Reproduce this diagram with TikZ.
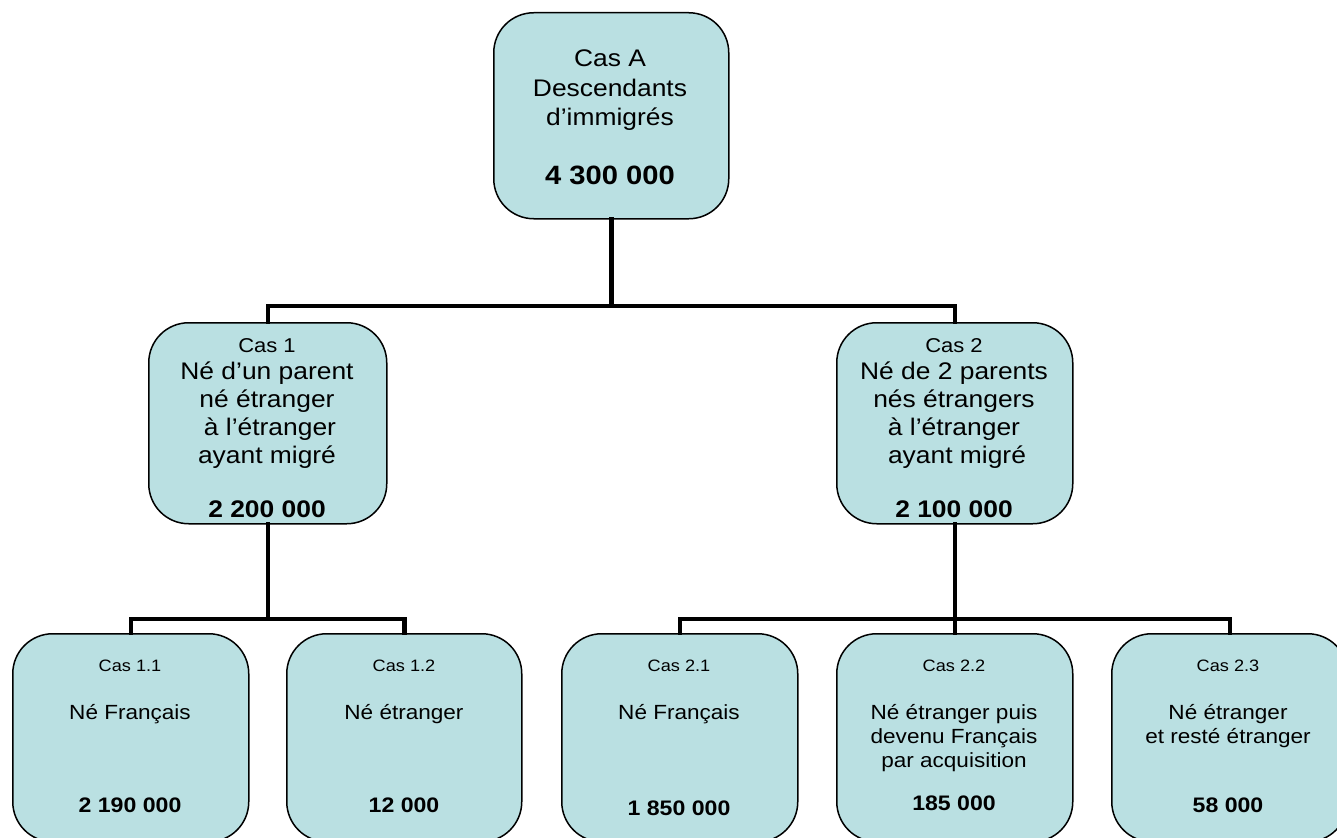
\documentclass[tikz,border=0pt]{standalone}
\usepackage{fontspec}
\setmainfont{Liberation Sans}
\newfontfamily\wfont[FakeStretch=1.1]{Liberation Sans}
\definecolor{boxfill}{RGB}{186,224,226}
\begin{document}
\begin{tikzpicture}[x=1pt,y=-1pt,
  box/.style={draw=black,line width=1.5pt,fill=boxfill,rounded corners=40pt,inner sep=0pt,anchor=north west},
  conn/.style={line width=4.5pt,line cap=rect},
  txt/.style={inner sep=0pt,anchor=base},
  big/.style={txt,font=\wfont\fontsize{24}{29}\selectfont},
  bigb/.style={txt,font=\wfont\fontsize{26.5}{29}\selectfont\bfseries},
  mid/.style={txt,font=\wfont\fontsize{24}{28}\selectfont},
  midb/.style={txt,font=\wfont\fontsize{24}{28}\selectfont\bfseries},
  midc/.style={txt,font=\wfont\fontsize{20}{24}\selectfont},
  sml/.style={txt,font=\wfont\fontsize{20.5}{24}\selectfont},
  smlb/.style={txt,font=\wfont\fontsize{21}{24}\selectfont\bfseries},
  smlc/.style={txt,font=\wfont\fontsize{16.5}{20}\selectfont},
]
\clip (0,0) rectangle (1337,837);
\useasboundingbox (0,0) rectangle (1337,837);
% boxes
\node[box,minimum width=235pt,minimum height=206pt] (a) at (493,12) {};
\node[box,minimum width=238pt,minimum height=201pt] (b1) at (148,322) {};
\node[box,minimum width=236pt,minimum height=201pt] (b2) at (836,322) {};
\node[box,minimum width=236pt,minimum height=208pt] (c11) at (12,633) {};
\node[box,minimum width=235pt,minimum height=208pt] (c12) at (286,633) {};
\node[box,minimum width=236pt,minimum height=208pt] (c21) at (561,633) {};
\node[box,minimum width=236pt,minimum height=208pt] (c22) at (836,633) {};
\node[box,minimum width=236pt,minimum height=208pt] (c23) at (1111,633) {};
% connectors
\coordinate (j1) at (a.south |- 0,306);
\coordinate (j2) at (b1.south |- 0,619);
\coordinate (j3) at (b2.south |- 0,619);
\draw[conn] (a.south) -- (j1);
\draw[conn] (b1.north) |- (j1) -| (b2.north);
\draw[conn] (b1.south) -- (j2);
\draw[conn] (c11.north) |- (j2) -| (c12.north);
\draw[conn] (b2.south) -- (j3);
\draw[conn] (c21.north) |- (j3) -| (c23.north);
\draw[conn] (c22.north) -- (j3);
% top texts (baselines)
\node[big] (a1) at (610,67) {Cas A};
\node[big] (a2) at (610,97) {Descendants};
\node[big] (a3) at (610,126) {d’immigrés};
\node[bigb] (a4) at (610,185) {4 300 000};
% level 2 left
\node[midc] (b1t1) at (267,352) {Cas 1};
\node[mid] (b1t2) at (267,379) {Né d’un parent};
\node[mid] (b1t3) at (267,407) {né étranger};
\node[mid] (b1t4) at (270,435) {à l’étranger};
\node[mid] (b1t5) at (267,463) {ayant migré};
\node[midb] (b1t6) at (267,517) {2 200 000};
% level 2 right
\node[midc] (b2t1) at (954,352) {Cas 2};
\node[mid] (b2t2) at (954,379) {Né de 2 parents};
\node[mid] (b2t3) at (954,407) {nés étrangers};
\node[mid] (b2t4) at (954,435) {à l’étranger};
\node[mid] (b2t5) at (957,463) {ayant migré};
\node[midb] (b2t6) at (954,517) {2 100 000};
% bottom
\node[smlc] (c11t1) at (130,671) {Cas 1.1};
\node[sml] (c11t2) at (130,719) {Né Français};
\node[smlb] (c11t3) at (130,812) {2 190 000};
\node[smlc] (c12t1) at (404,671) {Cas 1.2};
\node[sml] (c12t2) at (404,719) {Né étranger};
\node[smlb] (c12t3) at (404,812) {12 000};
\node[smlc] (c21t1) at (679,671) {Cas 2.1};
\node[sml] (c21t2) at (679,719) {Né Français};
\node[smlb] (c21t3) at (679,815) {1 850 000};
\node[smlc] (c22t1) at (954,671) {Cas 2.2};
\node[sml] (c22t2) at (954,719) {Né étranger puis};
\node[sml] (c22t3) at (954,743) {devenu Français};
\node[sml] (c22t4) at (954,767) {par acquisition};
\node[smlb] (c22t5) at (954,810) {185 000};
\node[smlc] (c23t1) at (1228,671) {Cas 2.3};
\node[sml] (c23t2) at (1228,719) {Né étranger};
\node[sml] (c23t3) at (1228,743) {et resté étranger};
\node[smlb] (c23t4) at (1228,812) {58 000};
\end{tikzpicture}
\end{document}
